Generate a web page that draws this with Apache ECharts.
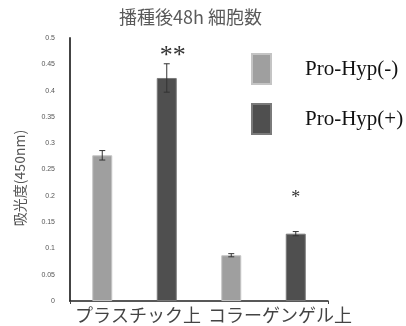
<!DOCTYPE html>
<html>
<head>
<meta charset="utf-8">
<script src="https://cdn.jsdelivr.net/npm/echarts@6/dist/echarts.min.js"></script>
<style>
  html, body { margin: 0; padding: 0; background: #fff; }
  #chart { width: 406px; height: 326px; }
</style>
</head>
<body>
<div id="chart"></div>
<script>
// Substrates and treatment conditions
const groups = ['プラスチック上', 'コラーゲンゲル上'];
const conditions = ['Pro-Hyp(-)', 'Pro-Hyp(+)'];

// Absorbance at 450 nm, per substrate, for each condition
const minusMeans = [0.277, 0.087];
const plusMeans = [0.424, 0.128];
// Error bar half-lengths
const minusErr = [0.009, 0.003];
const plusErr = [0.027, 0.004];
// Significance marks over the Pro-Hyp(+) bars
const plusSig = ['**', '*'];

const yTicks = ['0', '0.05', '0.1', '0.15', '0.2', '0.25', '0.3', '0.35', '0.4', '0.45', '0.5'];

// One slot per bar: substrate x condition
const slots = [];
const minusData = [];
const plusData = [];
const errData = [];
groups.forEach((g, gi) => {
  slots.push(g + ' ' + conditions[0]);
  minusData.push(minusMeans[gi]);
  plusData.push('-');
  errData.push([slots.length - 1, minusMeans[gi], minusErr[gi], '']);
  slots.push(g + ' ' + conditions[1]);
  minusData.push('-');
  plusData.push(plusMeans[gi]);
  errData.push([slots.length - 1, plusMeans[gi], plusErr[gi], plusSig[gi]]);
});

const chart = echarts.init(document.getElementById('chart'), null, { renderer: 'canvas' });

const LIGHT = '#9f9f9f';
const DARK = '#4f4f4f';

// Placement of each significance mark relative to the top of its error bar
const sigStyle = {
  '**': { font: '26px "Liberation Serif", serif', lift: -5, dx: 6 },
  '*': { font: '18px "Liberation Serif", serif', lift: 24, dx: 0 }
};

chart.setOption({
  animation: false,
  backgroundColor: '#fff',
  title: {
    text: '播種後48h 細胞数',
    left: 114,
    top: 3,
    textStyle: {
      fontFamily: '"Noto Sans CJK JP", sans-serif',
      fontWeight: 'normal',
      fontSize: 18,
      color: '#5a5a5a'
    }
  },
  legend: {
    orient: 'vertical',
    left: 246,
    top: 48,
    itemWidth: 19,
    itemHeight: 30,
    itemGap: 18,
    icon: 'rect',
    data: conditions,
    textStyle: {
      fontFamily: '"Liberation Serif", serif',
      fontSize: 21,
      color: '#111',
      padding: [0, 0, 0, 29]
    }
  },
  grid: { left: 70, right: 78, top: 38, bottom: 25 },
  xAxis: {
    type: 'category',
    data: slots,
    axisLine: { lineStyle: { color: '#222', width: 1.5 } },
    axisTick: { show: true, length: 3, lineStyle: { color: '#444' } },
    axisLabel: { show: false },
    splitLine: { show: false }
  },
  yAxis: {
    type: 'value',
    min: 0,
    max: 0.5,
    interval: 0.05,
    axisLine: { show: true, lineStyle: { color: '#444', width: 2 } },
    axisTick: { show: false },
    splitLine: { show: false },
    axisLabel: {
      margin: 15,
      fontFamily: '"Liberation Sans", Arial, sans-serif',
      fontSize: 7,
      color: '#555',
      formatter: (v) => {
        const idx = Math.round(v / 0.05);
        return yTicks[idx] !== undefined ? yTicks[idx] : '';
      }
    }
  },
  graphic: [
    {
      type: 'text',
      x: 20,
      y: 178,
      rotation: Math.PI / 2,
      style: {
        text: '吸光度(450nm)',
        font: '14px "Noto Sans CJK JP", sans-serif',
        fill: '#555',
        textAlign: 'center',
        textVerticalAlign: 'middle'
      }
    },
    {
      type: 'text',
      x: 75,
      y: 315,
      style: {
        text: groups[0],
        font: '18px "Noto Sans CJK JP", sans-serif',
        fill: '#444',
        textAlign: 'left',
        textVerticalAlign: 'middle'
      }
    },
    {
      type: 'text',
      x: 208,
      y: 315,
      style: {
        text: groups[1],
        font: '18px "Noto Sans CJK JP", sans-serif',
        fill: '#444',
        textAlign: 'left',
        textVerticalAlign: 'middle'
      }
    }
  ],
  series: [
    {
      name: conditions[0],
      type: 'bar',
      stack: 'slot',
      barWidth: 20,
      data: minusData,
      itemStyle: { color: LIGHT, borderColor: '#c4c4c4', borderWidth: 1 }
    },
    {
      name: conditions[1],
      type: 'bar',
      stack: 'slot',
      barWidth: 20,
      data: plusData,
      itemStyle: { color: DARK, borderColor: '#7a7a7a', borderWidth: 1 }
    },
    {
      type: 'custom',
      z: 10,
      data: errData,
      encode: { x: 0, y: 1 },
      renderItem: (params, api) => {
        const i = api.value(0);
        const v = api.value(1);
        const e = api.value(2);
        const sig = errData[params.dataIndex][3];
        const top = api.coord([i, v + e]);
        const bot = api.coord([i, v - e]);
        const x = top[0];
        const cap = 3;
        const st = { stroke: '#333', lineWidth: 1 };
        const children = [
          { type: 'line', shape: { x1: x, y1: top[1], x2: x, y2: bot[1] }, style: st },
          { type: 'line', shape: { x1: x - cap, y1: top[1], x2: x + cap, y2: top[1] }, style: st },
          { type: 'line', shape: { x1: x - cap, y1: bot[1], x2: x + cap, y2: bot[1] }, style: st }
        ];
        if (sig) {
          const s = sigStyle[sig];
          children.push({
            type: 'text',
            x: x + s.dx,
            y: top[1] - s.lift,
            style: {
              text: sig,
              font: s.font,
              fill: '#333',
              textAlign: 'center',
              textVerticalAlign: 'bottom'
            }
          });
        }
        return { type: 'group', children };
      }
    }
  ]
});
</script>
</body>
</html>
